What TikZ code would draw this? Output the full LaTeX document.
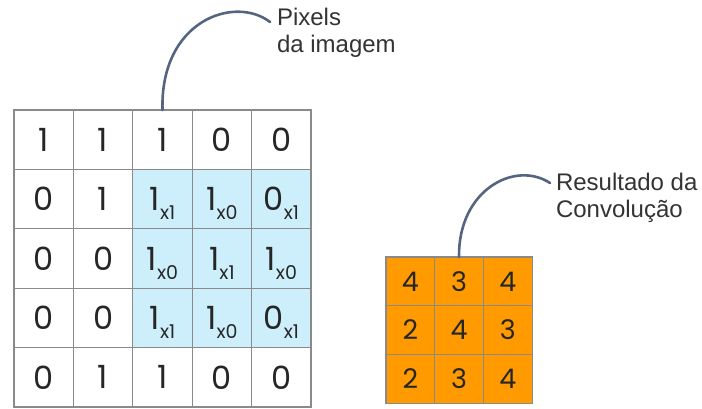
\documentclass[tikz,border=0pt]{standalone}
\usepackage{fontspec}
\setmainfont{Liberation Sans}
\newfontfamily\numfont{Poppins}
\usepackage{tikz}
\usetikzlibrary{positioning}

\definecolor{gridgray}{HTML}{8A8A8A}
\definecolor{kernelblue}{HTML}{CDEFFB}
\definecolor{resorange}{HTML}{FF9A00}
\definecolor{callblue}{HTML}{55657F}

% pixel value with its kernel weight as a subscript
\newcommand{\weighted}[2]{#1\raisebox{-9pt}[0pt][0pt]{\fontsize{19pt}{19pt}\selectfont x#2}}

\begin{document}
\begin{tikzpicture}[x=1pt,y=-1pt,node distance=0pt,outer sep=0pt,
  pixel/.style={
    draw=gridgray,
    line width=1.2pt,
    fill=white,
    minimum size=59.4pt,
    inner sep=0pt,
    text=black!85,
    font={\numfont\fontsize{32pt}{32pt}\selectfont},
    },
  kernel/.style={pixel,fill=kernelblue},
  result/.style={pixel,fill=resorange,minimum size=48.7pt,font={\numfont\fontsize{27pt}{27pt}\selectfont}},
  caption/.style={align=left,inner sep=0pt,text=black!80,font={\fontsize{24pt}{27pt}\selectfont}},
  callout/.style={draw=callblue,line width=2.6pt,line cap=round},
  ]
  \useasboundingbox (0,0) rectangle (702,408);

  % input image
  \node[pixel, anchor=north west] (img11) at (14,110) {1};
  \node[pixel, right=of img11] (img12) {1};
  \node[pixel, right=of img12] (img13) {1};
  \node[pixel, right=of img13] (img14) {0};
  \node[pixel, right=of img14] (img15) {0};

  \node[pixel, below=of img11] (img21) {0};
  \node[pixel, right=of img21] (img22) {1};
  \node[kernel, right=of img22] (img23) {\weighted{1}{1}};
  \node[kernel, right=of img23] (img24) {\weighted{1}{0}};
  \node[kernel, right=of img24] (img25) {\weighted{0}{1}};

  \node[pixel, below=of img21] (img31) {0};
  \node[pixel, right=of img31] (img32) {0};
  \node[kernel, right=of img32] (img33) {\weighted{1}{0}};
  \node[kernel, right=of img33] (img34) {\weighted{1}{1}};
  \node[kernel, right=of img34] (img35) {\weighted{1}{0}};

  \node[pixel, below=of img31] (img41) {0};
  \node[pixel, right=of img41] (img42) {0};
  \node[kernel, right=of img42] (img43) {\weighted{1}{1}};
  \node[kernel, right=of img43] (img44) {\weighted{1}{0}};
  \node[kernel, right=of img44] (img45) {\weighted{0}{1}};

  \node[pixel, below=of img41] (img51) {0};
  \node[pixel, right=of img51] (img52) {1};
  \node[pixel, right=of img52] (img53) {1};
  \node[pixel, right=of img53] (img54) {0};
  \node[pixel, right=of img54] (img55) {0};

  % convolved output
  \node[result, anchor=north west] (res11) at (386,257) {4};
  \node[result, right=of res11] (res12) {3};
  \node[result, right=of res12] (res13) {4};

  \node[result, below=of res11] (res21) {2};
  \node[result, right=of res21] (res22) {4};
  \node[result, right=of res22] (res23) {3};

  \node[result, below=of res21] (res31) {2};
  \node[result, right=of res31] (res32) {3};
  \node[result, right=of res32] (res33) {4};

  % callouts
  \coordinate (pixtip) at (270,22);
  \node[caption, anchor=north west] (pixtxt) at (277,8) {Pixels\\da imagem};
  \draw[callout] (img13.north) .. controls (160,20) and (235,-5) .. (pixtip);

  \coordinate (restip) at (550,183);
  \node[caption, anchor=north west] (restxt) at (556,173) {Resultado da\\Convolução};
  \draw[callout] (res12.north) .. controls (458,190) and (515,160) .. (restip);

\end{tikzpicture}
\end{document}
